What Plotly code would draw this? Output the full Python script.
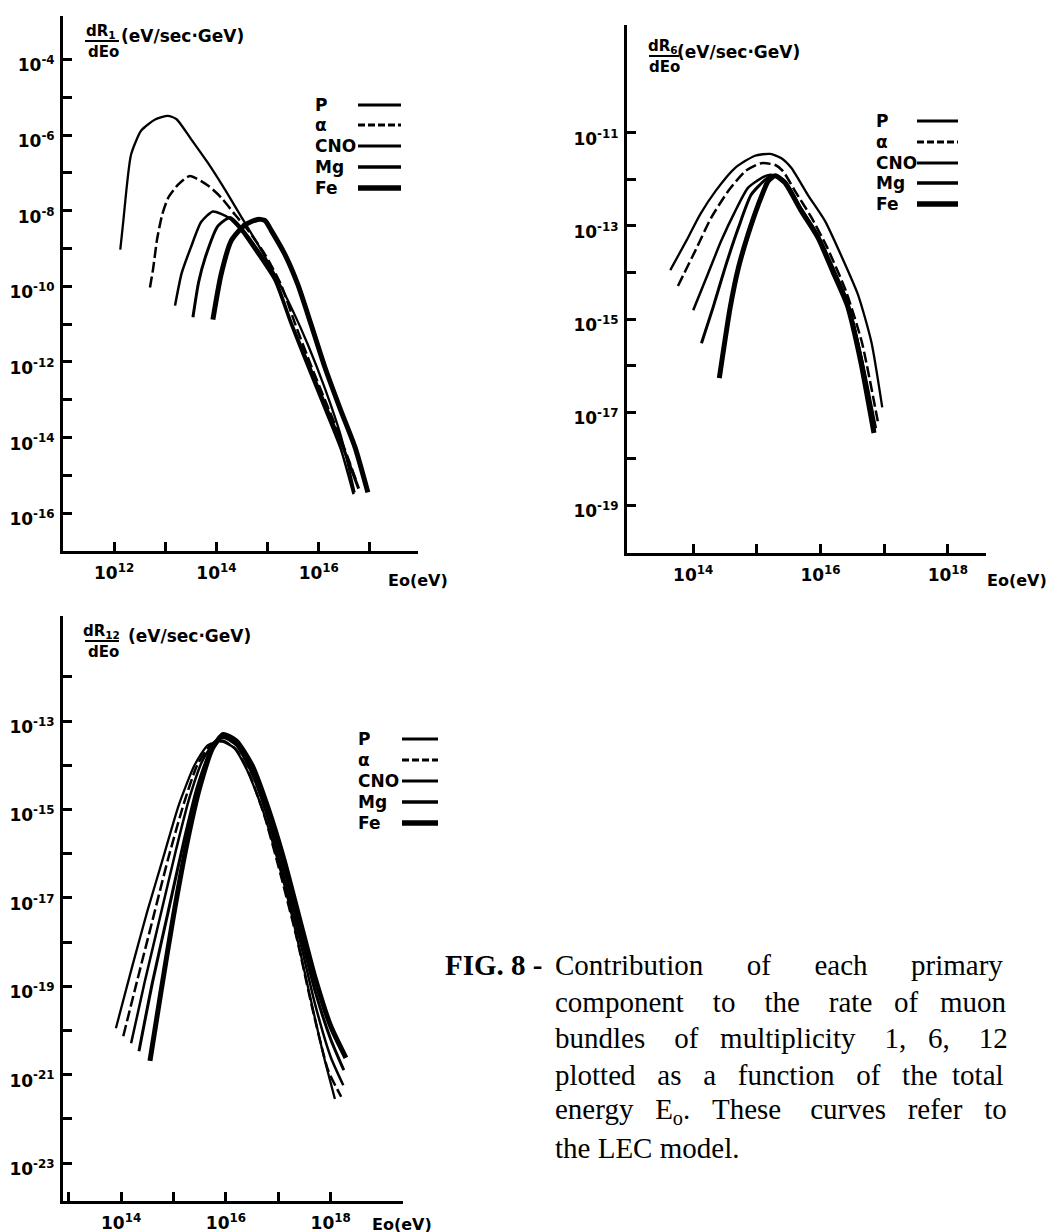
import plotly.graph_objects as go

W, H = 1064, 1232

SERIES = ["P", "α", "CNO", "Mg", "Fe"]

# ---------------- Panel 1 : multiplicity 1  (log10 E0[eV], log10 dR1/dE0) ----------------
m1_P_logE = [12.12, 12.18, 12.33, 12.53, 12.80, 13.05, 13.22, 13.50, 13.84, 14.17, 14.48, 14.81, 15.14, 15.46, 15.79, 16.12, 16.43, 16.70]
m1_P_logY = [-9.03, -8.26, -6.52, -5.88, -5.59, -5.49, -5.58, -6.10, -6.75, -7.45, -8.15, -8.89, -9.69, -10.55, -11.55, -12.70, -13.95, -15.45]
m1_a_logE = [12.70, 12.76, 12.84, 12.94, 13.06, 13.25, 13.48, 13.84, 14.09, 14.36, 14.62, 14.95, 15.26, 15.54, 15.85, 16.15, 16.45, 16.73]
m1_a_logY = [-10.03, -9.55, -8.75, -8.10, -7.65, -7.31, -7.08, -7.34, -7.65, -8.10, -8.52, -9.16, -9.95, -11.00, -12.10, -13.10, -14.10, -15.13]
m1_C_logE = [13.19, 13.32, 13.50, 13.70, 13.93, 14.23, 14.48, 14.81, 15.14, 15.44, 15.79, 16.12, 16.43, 16.68]
m1_C_logY = [-10.51, -9.65, -8.97, -8.30, -8.02, -8.18, -8.52, -9.16, -9.85, -10.95, -12.15, -13.25, -14.30, -15.50]
m1_M_logE = [13.54, 13.65, 13.78, 14.03, 14.27, 14.48, 14.81, 15.14, 15.46, 15.83, 16.18, 16.50, 16.78]
m1_M_logY = [-10.82, -9.90, -9.24, -8.40, -8.18, -8.45, -9.05, -9.77, -10.95, -12.15, -13.30, -14.35, -15.35]
m1_F_logE = [13.93, 14.09, 14.29, 14.56, 14.81, 14.95, 15.07, 15.34, 15.59, 15.85, 16.12, 16.43, 16.71, 16.96]
m1_F_logY = [-10.88, -9.69, -8.79, -8.37, -8.23, -8.26, -8.52, -9.16, -9.95, -11.01, -12.14, -13.28, -14.26, -15.45]

# ---------------- Panel 2 : multiplicity 6 ----------------
m6_P_logE = [13.64, 13.90, 14.11, 14.35, 14.66, 14.97, 15.21, 15.38, 15.54, 15.80, 16.07, 16.32, 16.59, 16.80, 16.97]
m6_P_logY = [-13.95, -13.30, -12.75, -12.25, -11.75, -11.49, -11.45, -11.54, -11.75, -12.33, -12.89, -13.62, -14.48, -15.50, -16.90]
m6_a_logE = [13.76, 14.03, 14.28, 14.55, 14.82, 15.07, 15.29, 15.41, 15.60, 15.85, 16.10, 16.40, 16.65, 16.90]
m6_a_logY = [-14.29, -13.54, -12.83, -12.25, -11.82, -11.65, -11.69, -11.82, -12.25, -12.80, -13.45, -14.40, -15.50, -17.20]
m6_C_logE = [14.00, 14.24, 14.44, 14.66, 14.86, 15.07, 15.22, 15.44, 15.69, 15.96, 16.20, 16.42, 16.64, 16.87]
m6_C_logY = [-14.81, -14.00, -13.32, -12.68, -12.18, -11.97, -11.90, -12.03, -12.61, -13.19, -13.90, -14.60, -15.80, -17.35]
m6_M_logE = [14.13, 14.31, 14.50, 14.71, 14.91, 15.13, 15.25, 15.44, 15.69, 15.96, 16.20, 16.42, 16.64, 16.85]
m6_M_logY = [-15.52, -14.76, -13.90, -13.04, -12.33, -12.01, -11.92, -12.05, -12.63, -13.22, -13.95, -14.65, -15.85, -17.40]
m6_F_logE = [14.41, 14.58, 14.71, 14.86, 15.02, 15.18, 15.29, 15.44, 15.69, 15.96, 16.20, 16.42, 16.63, 16.84]
m6_F_logY = [-16.27, -14.76, -13.90, -13.19, -12.55, -12.03, -11.92, -12.07, -12.66, -13.25, -14.00, -14.70, -15.90, -17.45]

# ---------------- Panel 3 : multiplicity 12 ----------------
m12_P_logE = [13.90, 14.20, 14.50, 14.80, 15.10, 15.40, 15.65, 15.90, 16.15, 16.40, 16.70, 17.00, 17.30, 17.60, 17.85, 18.08]
m12_P_logY = [-19.95, -18.60, -17.30, -16.10, -14.90, -14.00, -13.55, -13.45, -13.60, -14.10, -15.00, -16.20, -17.60, -19.20, -20.50, -21.55]
m12_a_logE = [14.04, 14.30, 14.60, 14.90, 15.20, 15.45, 15.70, 15.95, 16.20, 16.45, 16.75, 17.05, 17.35, 17.65, 17.95, 18.20]
m12_a_logY = [-20.13, -18.90, -17.50, -16.10, -14.85, -14.00, -13.55, -13.45, -13.65, -14.20, -15.20, -16.50, -17.90, -19.50, -20.90, -21.50]
m12_C_logE = [14.19, 14.45, 14.75, 15.05, 15.30, 15.55, 15.80, 15.97, 16.20, 16.50, 16.80, 17.10, 17.40, 17.70, 18.00, 18.24]
m12_C_logY = [-20.29, -18.90, -17.40, -15.90, -14.75, -13.90, -13.45, -13.38, -13.55, -14.20, -15.20, -16.50, -17.90, -19.40, -20.60, -21.24]
m12_M_logE = [14.34, 14.60, 14.90, 15.20, 15.45, 15.70, 15.95, 16.20, 16.50, 16.80, 17.10, 17.40, 17.70, 18.00, 18.25]
m12_M_logY = [-20.47, -18.90, -17.30, -15.70, -14.50, -13.70, -13.35, -13.50, -14.10, -15.05, -16.30, -17.70, -19.10, -20.20, -20.90]
m12_F_logE = [14.55, 14.75, 15.00, 15.25, 15.50, 15.75, 15.95, 16.20, 16.50, 16.80, 17.10, 17.40, 17.70, 18.00, 18.29]
m12_F_logY = [-20.69, -19.20, -17.40, -15.80, -14.50, -13.60, -13.30, -13.45, -14.00, -14.95, -16.10, -17.45, -18.80, -19.90, -20.62]

# ---------------- axis ticks (decade exponents) ----------------
p1_xticks = [12, 13, 14, 15, 16, 17]
p1_xlabels = [12, 14, 16]
p1_yticks = list(range(-16, -3))
p1_ylabels = [-4, -6, -8, -10, -12, -14, -16]
p2_xticks = [14, 15, 16, 17, 18]
p2_xlabels = [14, 16, 18]
p2_yticks = list(range(-19, -10))
p2_ylabels = [-11, -13, -15, -17, -19]
p3_xticks = [13, 14, 15, 16, 17, 18]
p3_xlabels = [14, 16, 18]
p3_yticks = list(range(-23, -11))
p3_ylabels = [-13, -15, -17, -19, -21, -23]

panel_data = {
    1: {"P": (m1_P_logE, m1_P_logY), "α": (m1_a_logE, m1_a_logY), "CNO": (m1_C_logE, m1_C_logY),
        "Mg": (m1_M_logE, m1_M_logY), "Fe": (m1_F_logE, m1_F_logY)},
    2: {"P": (m6_P_logE, m6_P_logY), "α": (m6_a_logE, m6_a_logY), "CNO": (m6_C_logE, m6_C_logY),
        "Mg": (m6_M_logE, m6_M_logY), "Fe": (m6_F_logE, m6_F_logY)},
    3: {"P": (m12_P_logE, m12_P_logY), "α": (m12_a_logE, m12_a_logY), "CNO": (m12_C_logE, m12_C_logY),
        "Mg": (m12_M_logE, m12_M_logY), "Fe": (m12_F_logE, m12_F_logY)},
}

STYLE = {
    "P": dict(width=2.3, dash="solid"),
    "α": dict(width=2.5, dash="11px,4px"),
    "CNO": dict(width=2.5, dash="solid"),
    "Mg": dict(width=3.0, dash="solid"),
    "Fe": dict(width=5.0, dash="solid"),
}

def px(x):
    return x / W

def py(y):
    return 1 - y / H

fig = go.Figure()
for k in (1, 2, 3):
    xa = "x" if k == 1 else f"x{k}"
    ya = "y" if k == 1 else f"y{k}"
    for s in SERIES:
        le, ly = panel_data[k][s]
        fig.add_trace(go.Scatter(
            x=[10 ** v for v in le], y=[10 ** v for v in ly], mode="lines",
            line=dict(color="black", width=STYLE[s]["width"], dash=STYLE[s]["dash"], shape="spline", smoothing=0.6),
            xaxis=xa, yaxis=ya, name=s, showlegend=False, hoverinfo="skip"))

TICKFONT = dict(family="DejaVu Sans", size=17, color="black")

def lab(e):
    return f"<b>10<sup>{e}</sup></b>"

def axis(dom, rng, ticks, labels, anchor, is_y):
    d = dict(type="log", domain=dom, range=rng, anchor=anchor,
             showline=True, linecolor="black", linewidth=3,
             ticks="inside", ticklen=9, tickwidth=3, tickcolor="black",
             showgrid=False, zeroline=False, tickfont=TICKFONT,
             tickmode="array",
             tickvals=[10 ** t for t in labels],
             ticktext=[lab(t) for t in labels],
             minor=dict(ticks="inside", ticklen=9, tickwidth=3, tickcolor="black", showgrid=False,
                        tickmode="array", tickvals=[10 ** t for t in ticks if t not in labels]))
    if is_y:
        d["ticklabelstandoff"] = 2
        d["ticklabelshift"] = 6
    else:
        d["ticklabelstandoff"] = 5
    return d

fig.update_layout(
    width=W, height=H, margin=dict(l=0, r=0, t=0, b=0),
    paper_bgcolor="white", plot_bgcolor="white", showlegend=False,
    xaxis=axis([px(55), px(410)], [11.0, 17.94], p1_xticks, p1_xlabels, "y", False),
    yaxis=axis([py(543), py(8)], [-17.0, -2.85], p1_yticks, p1_ylabels, "x", True),
    xaxis2=axis([px(619), px(978)], [12.96, 18.6], p2_xticks, p2_xlabels, "y2", False),
    yaxis2=axis([py(545), py(17)], [-20.03, -8.68], p2_yticks, p2_ylabels, "x2", True),
    xaxis3=axis([px(55), px(395)], [12.89, 19.38], p3_xticks, p3_xlabels, "y3", False),
    yaxis3=axis([py(1193), py(608)], [-23.86, -10.62], p3_yticks, p3_ylabels, "x3", True),
)

ann = []
shapes = []
BF = dict(family="DejaVu Sans", size=17, color="black")

def text(x, y, t, anchor="left", font=BF):
    ann.append(dict(x=px(x), y=py(y), xref="paper", yref="paper", text=t, showarrow=False,
                    xanchor=anchor, yanchor="middle", font=font))

# panel titles (fraction dR/dEo)
titles = [
    # (num center x, num y, bar y, den y, bar x0, bar x1, unit left x, unit y, subscript)
    (93, 24, 33, 44, 77, 111, 111, 28, "1"),
    (655, 39, 48, 59, 641, 671, 667, 44, "6"),
    (93, 624, 633, 644, 77, 111, 118, 628, "12"),
]
TF = dict(family="DejaVu Sans", size=15, color="black")
for nx, ny, by, dy, bx0, bx1, ux, uy, sub in titles:
    text(nx, ny, f"<b>dR<sub>{sub}</sub></b>", "center", TF)
    text(nx + 2, dy, "<b>dEo</b>", "center", TF)
    shapes.append(dict(type="line", xref="paper", yref="paper", x0=px(bx0), x1=px(bx1), y0=py(by), y1=py(by),
                       line=dict(color="black", width=2)))
    text(ux, uy, "<b>(eV/sec·GeV)</b>", "left", dict(family="DejaVu Sans", size=17, color="black"))

# x axis names
for x, y in [(378, 572), (977, 572), (362, 1216)]:
    text(x, y, "<b>Eo(eV)</b>", "left", dict(family="DejaVu Sans", size=16, color="black"))

# legends (text left, line sample right)
legends = [
    (305, 350, 393, [97, 117, 138, 159, 180]),
    (866, 909, 950, [113, 134, 155, 175, 196]),
    (348, 394, 430, [731, 752, 773, 794, 815]),
]
for tx, lx0, lx1, ys in legends:
    for s, y in zip(SERIES, ys):
        text(tx, y, f"<b>{s}</b>", "left", BF)
        shapes.append(dict(type="line", xref="paper", yref="paper", x0=px(lx0), x1=px(lx1), y0=py(y), y1=py(y),
                           line=dict(color="black", width=STYLE[s]["width"] + 0.5,
                                     dash="solid" if s != "α" else "7px,3px")))

# caption (justified lines: extra non-breaking spaces widen the gaps)
CF = dict(family="Liberation Serif, Times New Roman, serif", size=29, color="black")
text(435, 957, "<b>FIG. 8 -</b>", "left", CF)
N = "\u00a0"
caption_words = [
    (["Contribution", "of", "each", "primary"], [6, 6, 6]),
    (["component", "to", "the", "rate", "of", "muon"], [4, 4, 4, 3, 3]),
    (["bundles", "of", "multiplicity", "1,", "6,", "12"], [4, 3, 4, 3, 4]),
    (["plotted", "as", "a", "function", "of", "the", "total"], [3, 3, 3, 3, 3, 2]),
    (["energy", "E<sub>o</sub>.", "These", "curves", "refer", "to"], [3, 3, 4, 3, 3]),
    (["the", "LEC", "model."], [1, 1]),
]
for i, (words, gaps) in enumerate(caption_words):
    line = words[0]
    for w, g in zip(words[1:], gaps):
        line += N * g + w
    text(545, 957 + i * 36.6, line, "left", CF)

fig.update_layout(annotations=ann, shapes=shapes)
fig.write_html("out.html")
